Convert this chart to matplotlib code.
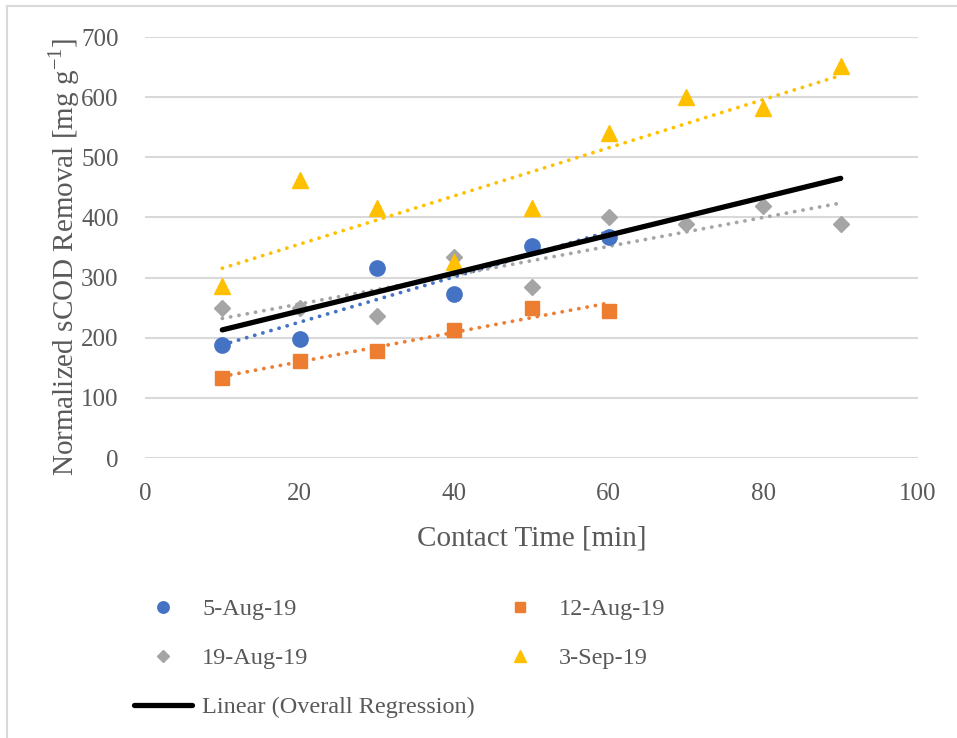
import numpy as np
import matplotlib.pyplot as plt
from matplotlib.lines import Line2D

plt.rcParams['font.family'] = ['Liberation Serif', 'DejaVu Serif']

# contact time [min] and normalized sCOD removal [mg/g] per sampling date
t_short = [10, 20, 30, 40, 50, 60]
t_long = [10, 20, 30, 40, 50, 60, 70, 80, 90]
aug05 = [188, 198, 316, 272, 352, 368]
aug12 = [133, 162, 178, 213, 249, 245]
aug19 = [250, 249, 236, 334, 285, 401, 389, 419, 389]
sep03 = [286, 463, 416, 326, 416, 541, 600, 582, 652]

# end points of the overall regression line
overall_x = [10, 90]
overall_y = [213, 465]

series = [
    ("5-Aug-19", t_short, aug05, "#4472C4", "o", 11),
    ("12-Aug-19", t_short, aug12, "#ED7D31", "s", 10.5),
    ("19-Aug-19", t_long, aug19, "#A5A5A5", "D", 8.5),
    ("3-Sep-19", t_long, sep03, "#FFC000", "^", 11.5),
]

txt = "#595959"
grid_c = "#D9D9D9"

fig = plt.figure(figsize=(9.57, 7.38), dpi=100)
ax = fig.add_axes([145 / 957, 1 - 458 / 738, (918 - 145) / 957, (458 - 37) / 738])

handles = {}
for name, x, y, col, mk, ms in series:
    x = np.array(x)
    y = np.array(y)
    h = ax.plot(x, y, ls="none", marker=mk, ms=ms, color=col, mec=col, zorder=3)[0]
    handles[name] = h
    # least squares trend line per date
    k, b = np.polyfit(x, y, 1)
    xs = np.array([x.min(), x.max()])
    ax.plot(xs, k * xs + b, color=col, lw=2.7, ls=(0, (0.05, 2.2)),
            dash_capstyle="round", zorder=2)

lin = ax.plot(overall_x, overall_y, color="black", lw=3.8, solid_capstyle="round", zorder=4)[0]

ax.set_xlim(0, 100)
ax.set_ylim(0, 700)
ax.set_xticks(np.arange(0, 101, 20))
ax.set_yticks(np.arange(0, 701, 100))
ax.yaxis.grid(True, color=grid_c, lw=1.5)
ax.set_axisbelow(True)
for s in ax.spines.values():
    s.set_visible(False)
ax.tick_params(length=0, labelsize=18, colors=txt)
ax.tick_params(axis="x", pad=18)
ax.tick_params(axis="y", pad=19)

ax.set_xlabel("Contact Time [min]", fontsize=21, color=txt, labelpad=15)
ax.set_ylabel(r"Normalized sCOD Removal [mg g$^{\mathregular{-1}}$]", fontsize=21,
              color=txt)
ax.yaxis.set_label_coords(-0.082, 0.478)

# chart area border (only top and left edges are in frame)
fig.add_artist(Line2D([7 / 957, 7 / 957], [0, 1 - 6 / 738], color=grid_c, lw=1.5))
fig.add_artist(Line2D([7 / 957, 1], [1 - 6 / 738, 1 - 6 / 738], color=grid_c, lw=1.5))

leg_kw = dict(frameon=False, fontsize=17.5, labelcolor=txt, handlelength=2.4,
              handletextpad=0.4, labelspacing=1.12, borderpad=0, borderaxespad=0,
              markerscale=0.75)
fig.legend([handles["5-Aug-19"], handles["19-Aug-19"], lin],
           ["5-Aug-19", "19-Aug-19", "Linear (Overall Regression)"],
           loc="upper left", bbox_to_anchor=(134 / 957, 1 - 598 / 738), **leg_kw)
fig.legend([handles["12-Aug-19"], handles["3-Sep-19"]],
           ["12-Aug-19", "3-Sep-19"],
           loc="upper left", bbox_to_anchor=(491 / 957, 1 - 598 / 738), **leg_kw)

fig.savefig("out.png", dpi=100)
